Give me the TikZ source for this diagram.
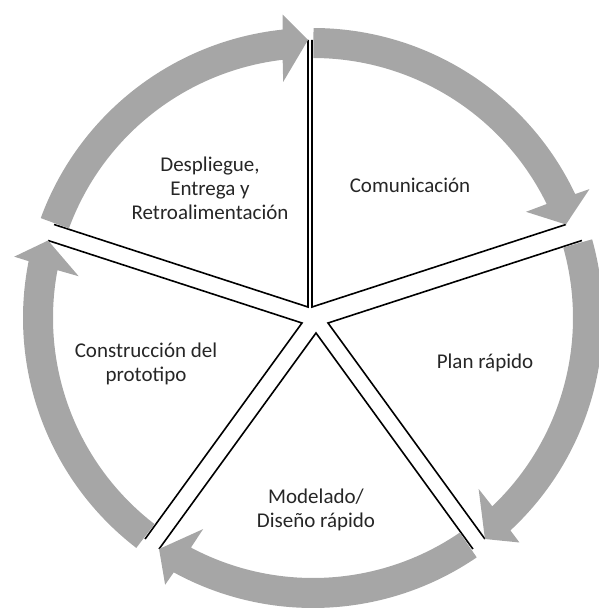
\documentclass[tikz,border=0pt]{standalone}
\usepackage{fontspec}
\setmainfont{Carlito}
\definecolor{arrowgray}{RGB}{166,166,166}

\begin{document}
\begin{tikzpicture}
  [x=1pt,y=1pt,
   edge/.style={draw=black,line width=1.6pt,line join=miter},
   band/.style={fill=arrowgray},
   every node/.style={font=\fontsize{21}{24}\selectfont,align=center,text=black!85}]
\useasboundingbox (-313,-291) rectangle (285,318);
  % inner corners of the five sectors
  \coordinate (s1) at (-1,11);
  \coordinate (s2) at (15,-5);
  \coordinate (s3) at (3,-15);
  \coordinate (s4) at (-11,-5);
  \coordinate (s5) at (-5,11);

  \foreach \s/\a/\b in {s1/90/18, s2/18/-54, s3/-54/-126, s4/-126/162, s5/162/90}{
    \path (\s) ++(\a:267) coordinate (\s-a);
    \path (\s) ++(\b:267) coordinate (\s-b);
    \draw[edge] (\s-a) -- (\s) -- (\s-b);
  }

  % curved arrows, tail angle / tip angle / sector
  \foreach \t/\h/\s in {89.9/20.3/s1, 15.74/-52.1/s2, -55.63/-123.7/s3,
                        -127.55/-196.3/s4, 159.85/91.0/s5}{
    \pgfmathsetmacro\ho{\h+4.7} \pgfmathsetmacro\hi{\h+6.2}
    \pgfmathsetmacro\bo{\h+5.0} \pgfmathsetmacro\bi{\h+5.7}
    \fill[band] (\t:290) arc[start angle=\t,end angle=\bo,radius=290]
      -- (\ho:305) -- (\s-b) -- (\hi:238) -- (\bi:260)
      arc[start angle=\bi,end angle=\t,radius=260] -- cycle;
  }

  \node (com) at (97,133) {Comunicación};
  \node (plan) at (172,-45) {Plan rápido};
  \node (mod) at (3,-192) {Modelado/\\Diseño rápido};
  \node (cons) at (-167,-45.5) {Construcción del\\prototipo};
  \node (desp) at (-103,129.5) {Despliegue,\\Entrega y\\Retroalimentación};
\end{tikzpicture}
\end{document}
